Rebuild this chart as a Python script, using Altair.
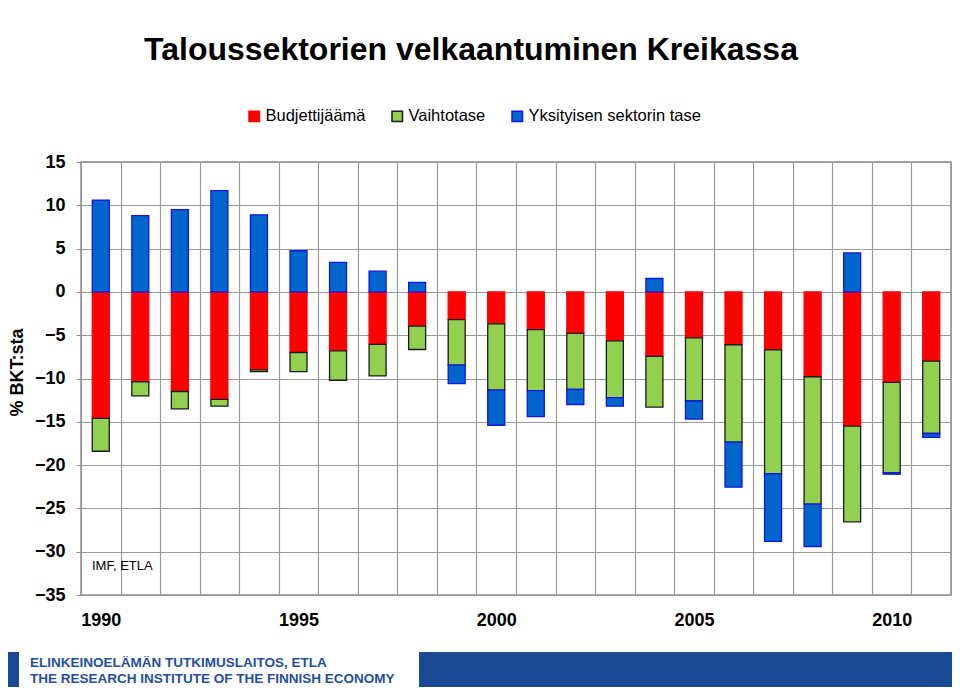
import altair as alt
import pandas as pd

years = list(range(1990, 2012))
budget = [-14.6, -10.4, -11.5, -12.4, -9.0, -7.0, -6.8, -6.05, -3.95, -3.2, -3.7,
          -4.35, -4.8, -5.65, -7.45, -5.3, -6.1, -6.7, -9.8, -15.5, -10.45, -8.0]
current = [-3.8, -1.6, -2.0, -0.8, -0.2, -2.2, -3.4, -3.65, -2.7, -5.25, -7.65,
           -7.05, -6.45, -6.55, -5.85, -7.3, -11.25, -14.3, -14.7, -11.05, -10.45, -8.35]
private = [10.6, 8.8, 9.5, 11.7, 8.9, 4.75, 3.4, 2.4, 1.1, -2.15, -4.05,
           -3.0, -1.75, -1.0, 1.55, -2.1, -5.2, -7.8, -4.9, 4.5, -0.15, -0.45]
series_names = ["Budjettijäämä", "Vaihtotase", "Yksityisen sektorin tase"]
fill_colors = ["#ff0000", "#92d050", "#0066cc"]
stroke_colors = ["#ff0000", "#1a1a1a", "#1414e6"]
y_ticks = [-35, -30, -25, -20, -15, -10, -5, 0, 5, 10, 15]

rows = []
for i, y in enumerate(years):
    for k, vals in enumerate([budget, current, private]):
        rows.append({"year": y, "series": series_names[k], "order": k, "value": vals[i]})
df = pd.DataFrame(rows)

FONT = "Liberation Sans"

legend_opts = dict(title=None, orient="none", direction="horizontal",
                   legendX=160, legendY=-59, fillColor="white",
                   padding=5, symbolType="square", symbolSize=110,
                   symbolStrokeWidth=1.5, labelFontSize=16.5,
                   labelFont=FONT, labelColor="#000000", labelLimit=400,
                   labelOffset=3, columnPadding=23)

bars = alt.Chart(df).mark_bar(size=17, strokeWidth=1.3).encode(
    x=alt.X("year:O", title=None,
            scale=alt.Scale(paddingInner=0, paddingOuter=0),
            axis=alt.Axis(labelExpr="datum.value % 5 == 0 ? datum.value : ''",
                          labelAngle=0, tickBand="extent", grid=True, ticks=False,
                          domain=False, labelFontSize=18, labelFontWeight="bold",
                          labelFont=FONT, labelColor="#000000", labelPadding=16,
                          gridColor="#9a9a9a", gridWidth=1.2)),
    y=alt.Y("value:Q", stack="zero", title="% BKT:sta",
            scale=alt.Scale(domain=[-35, 15], nice=False, zero=False),
            axis=alt.Axis(values=y_ticks, labelFontSize=18, labelFontWeight="bold",
                          labelFont=FONT, labelColor="#000000", labelPadding=11,
                          tickSize=5, tickColor="#8c8c8c", domain=False,
                          gridColor="#9a9a9a", gridWidth=1.2,
                          titleFontSize=18, titleFont=FONT, titleFontWeight="bold",
                          titleColor="#000000", titleX=-64, titleY=210,
                          titleAlign="center", titleBaseline="middle")),
    fill=alt.Fill("series:N", scale=alt.Scale(domain=series_names, range=fill_colors),
                  legend=alt.Legend(**legend_opts)),
    stroke=alt.Stroke("series:N", scale=alt.Scale(domain=series_names, range=stroke_colors),
                      legend=alt.Legend(**legend_opts)),
    order=alt.Order("order:Q"),
)

title = alt.Chart(pd.DataFrame({"t": ["Taloussektorien velkaantuminen Kreikassa"]})).mark_text(
    font=FONT, fontSize=32, fontWeight="bold", color="#000000", align="center", baseline="middle"
).encode(text="t:N", x=alt.value(390), y=alt.value(-112))

source = alt.Chart(pd.DataFrame({"t": ["IMF, ETLA"]})).mark_text(
    font=FONT, fontSize=13, color="#000000", align="left", baseline="middle"
).encode(text="t:N", x=alt.value(11), y=alt.value(404))

foot_left = alt.Chart(pd.DataFrame({"a": [0]})).mark_rect(color="#1b4a94").encode(
    x=alt.value(-81), x2=alt.value(-62), y=alt.value(490), y2=alt.value(540))
foot_right = alt.Chart(pd.DataFrame({"a": [0]})).mark_rect(color="#1b4a94").encode(
    x=alt.value(338), x2=alt.value(890), y=alt.value(490), y2=alt.value(540))

foot1 = alt.Chart(pd.DataFrame({"t": ["ELINKEINOELÄMÄN TUTKIMUSLAITOS, ETLA"]})).mark_text(
    font=FONT, fontSize=13.5, fontWeight="bold", color="#1f4f9e", align="left", baseline="middle"
).encode(text="t:N", x=alt.value(-51), y=alt.value(501))
foot2 = alt.Chart(pd.DataFrame({"t": ["THE RESEARCH INSTITUTE OF THE FINNISH ECONOMY"]})).mark_text(
    font=FONT, fontSize=13.5, fontWeight="bold", color="#1f4f9e", align="left", baseline="middle"
).encode(text="t:N", x=alt.value(-51), y=alt.value(517))

chart = alt.layer(bars, title, source, foot_left, foot_right, foot1, foot2).properties(
    width=870, height=433,
    autosize=alt.AutoSizeParams(type="none"),
    padding={"left": 73, "top": 154, "right": 1, "bottom": 92},
    background="white",
).configure_view(stroke="#8c8c8c", strokeWidth=1.5)

chart.save("out.html", embed_options={"renderer": "svg", "actions": False})
